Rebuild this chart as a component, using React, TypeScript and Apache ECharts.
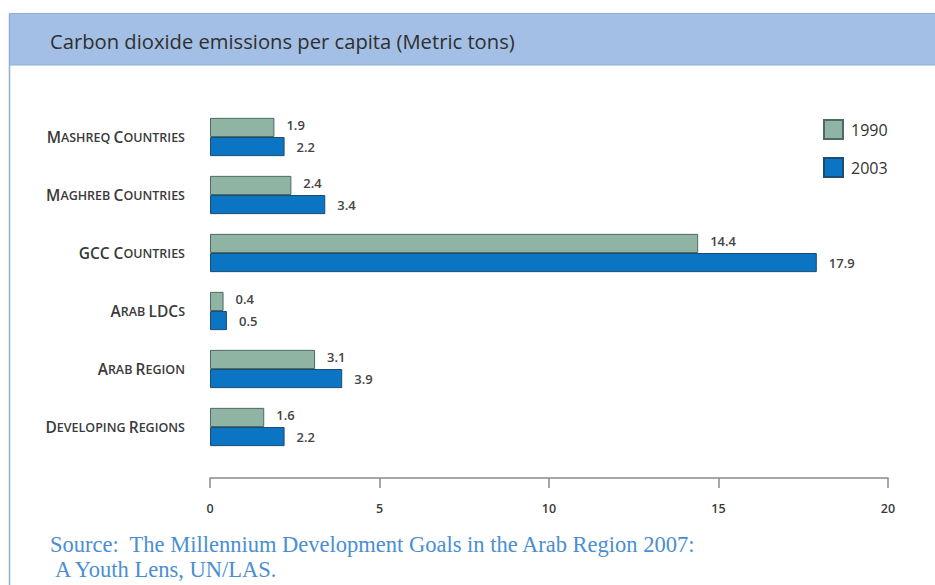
import React, { useEffect, useRef } from "react";
import * as echarts from "echarts";

const categories = [
  "Mashreq Countries",
  "Maghreb Countries",
  "GCC Countries",
  "Arab LDCs",
  "Arab Region",
  "Developing Regions",
];
const values1990 = [1.9, 2.4, 14.4, 0.4, 3.1, 1.6];
const values2003 = [2.2, 3.4, 17.9, 0.5, 3.9, 2.2];
const seriesNames = ["1990", "2003"];
const xTicks = [0, 5, 10, 15, 20];

const titleText = "Carbon dioxide emissions per capita (Metric tons)";
const sourceLine1 = "Source:  The Millennium Development Goals in the Arab Region 2007:";
const sourceLine2 = "A Youth Lens, UN/LAS.";

function smallCaps(label: string): string {
  let out = "";
  let cur = "";
  let curType = "";
  const flush = () => {
    if (cur) out += `{${curType}|${cur}}`;
    cur = "";
  };
  for (const ch of label) {
    const isUpper = ch !== ch.toLowerCase() || ch === " ";
    const t = ch === " " ? curType || "b" : isUpper ? "b" : "s";
    if (t !== curType) {
      flush();
      curType = t;
    }
    cur += ch.toUpperCase();
  }
  flush();
  return out;
}

export default function App() {
  const ref = useRef<HTMLDivElement>(null);
  useEffect(() => {
    document.body.style.margin = "0";
    const chart = echarts.init(ref.current!, undefined, { renderer: "svg" });
    const font = "'Open Sans', sans-serif";
    chart.setOption({
      animation: false,
      backgroundColor: "#ffffff",
      title: {
        text: titleText,
        left: 45,
        top: 26,
        textStyle: {
          fontFamily: font,
          fontSize: 20.2,
          fontWeight: "normal",
          color: "#2f2f2f",
        },
      },
      legend: {
        orient: "vertical",
        left: 818,
        top: 114,
        itemWidth: 19,
        itemHeight: 19,
        itemGap: 17,
        icon: "rect",
        data: seriesNames,
        textStyle: {
          fontFamily: font,
          fontSize: 16,
          color: "#333333",
          padding: [0, 0, 0, 3],
        },
      },
      grid: { left: 210, right: 47, top: 108, height: 348, containLabel: false },
      xAxis: {
        type: "value",
        min: 0,
        max: 20,
        interval: 5,
        offset: 22,
        axisLine: { show: true, lineStyle: { color: "#8a8a8a", width: 1.5 } },
        axisTick: { show: true, length: 10, lineStyle: { color: "#8a8a8a", width: 1.5 } },
        splitLine: { show: false },
        axisLabel: {
          margin: 24,
          fontFamily: font,
          fontSize: 12.5,
          fontWeight: 600,
          color: "#3a3a3a",
          formatter: (v: number) => (xTicks.includes(v) ? String(v) : ""),
        },
      },
      yAxis: {
        type: "category",
        data: categories,
        inverse: true,
        axisLine: { show: false },
        axisTick: { show: false },
        axisLabel: {
          margin: 25,
          formatter: (v: string) => smallCaps(v),
          rich: {
            b: { fontFamily: font, fontSize: 15.5, fontWeight: 600, color: "#3a3a3a" },
            s: { fontFamily: font, fontSize: 12.5, fontWeight: 600, color: "#3a3a3a" },
          },
        },
      },
      series: [
        {
          name: seriesNames[0],
          type: "bar",
          data: values1990,
          barGap: "0%",
          barCategoryGap: "34%",
          itemStyle: { color: "#8fb4a4", borderColor: "#4d6b62", borderWidth: 1 },
          label: {
            show: true,
            position: "right",
            distance: 12,
            offset: [0, -2],
            fontFamily: font,
            fontSize: 13,
            fontWeight: 600,
            color: "#444444",
          },
        },
        {
          name: seriesNames[1],
          type: "bar",
          data: values2003,
          barGap: "0%",
          barCategoryGap: "34%",
          itemStyle: { color: "#0b74c3", borderColor: "#1d4d72", borderWidth: 1 },
          label: {
            show: true,
            position: "right",
            distance: 12,
            fontFamily: font,
            fontSize: 13,
            fontWeight: 600,
            color: "#444444",
          },
        },
      ],
      graphic: [
        {
          type: "rect",
          z: -10,
          shape: { x: 9.5, y: 13.5, width: 940, height: 51.5 },
          style: { fill: "#a3bfe5", stroke: "#8eaed8", lineWidth: 1 },
        },
        {
          type: "line",
          z: -10,
          shape: { x1: 9.5, y1: 13.5, x2: 9.5, y2: 600 },
          style: { stroke: "#8eaed8", lineWidth: 1.5 },
        },
        {
          type: "text",
          left: 50,
          top: 533,
          style: {
            text: sourceLine1,
            fontFamily: "'Liberation Serif', serif",
            fontSize: 22.5,
            fill: "#4a8ed2",
          },
        },
        {
          type: "text",
          left: 55,
          top: 558,
          style: {
            text: sourceLine2,
            fontFamily: "'Liberation Serif', serif",
            fontSize: 22.5,
            fill: "#4a8ed2",
          },
        },
      ],
    });
    return () => chart.dispose();
  }, []);
  return <div ref={ref} style={{ width: 935, height: 585 }} />;
}
